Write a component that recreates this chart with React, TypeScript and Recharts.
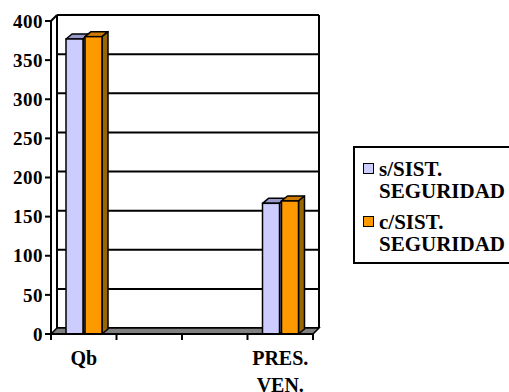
import { BarChart, Bar, XAxis, YAxis, CartesianGrid, usePlotArea } from 'recharts'

const categories = ['Qb', '', ' ', 'PRES. VEN.']
const sinSistema = [377, 0, 0, 167]
const conSistema = [380, 0, 0, 170]
const yTicks = [0, 50, 100, 150, 200, 250, 300, 350, 400]

const seriesNames = ['s/SIST. SEGURIDAD', 'c/SIST. SEGURIDAD']
const seriesColors = ['#ccccff', '#ff9900']
const seriesTops = ['#9999cc', '#cc7a00']
const seriesSides = ['#8080b0', '#996600']

const data = categories.map((name, i) => ({
  name,
  sin: sinSistema[i],
  con: conSistema[i],
}))

const FONT = 'Liberation Serif, Tinos, DejaVu Serif, serif'
// depth of the fake 3d walls / bars
const DX = 6
const DY = 6
const BDX = 6
const BDY = 5

function Walls() {
  const area = usePlotArea()
  if (!area) return null
  const { x, y, width, height } = area
  const r = x + width
  const b = y + height
  return (
    <g>
      <polygon
        points={`${x},${b} ${r},${b} ${r + DX},${b - DY} ${x + DX},${b - DY}`}
        fill="#808080"
        stroke="#000"
        strokeWidth={1.5}
      />
      <line x1={x + DX} y1={y - DY} x2={x + DX} y2={b - DY} stroke="#000" strokeWidth={2} />
      <line x1={r + DX} y1={y - DY} x2={r + DX} y2={b - DY} stroke="#000" strokeWidth={2} />
      <line x1={x} y1={y} x2={x + DX} y2={y - DY} stroke="#000" strokeWidth={2} />
    </g>
  )
}

function Bar3D(props: any) {
  const { x, y, width, height, fill, top, side } = props
  if (!height || height <= 0) return null
  const sw = 1.5
  return (
    <g>
      <polygon
        points={`${x},${y} ${x + BDX},${y - BDY} ${x + width + BDX},${y - BDY} ${x + width},${y}`}
        fill={top}
        stroke="#000"
        strokeWidth={sw}
        strokeLinejoin="round"
      />
      <polygon
        points={`${x + width},${y} ${x + width + BDX},${y - BDY} ${x + width + BDX},${y + height - BDY} ${x + width},${y + height}`}
        fill={side}
        stroke="#000"
        strokeWidth={sw}
        strokeLinejoin="round"
      />
      <rect x={x} y={y} width={width} height={height} fill={fill} stroke="#000" strokeWidth={sw} />
    </g>
  )
}

function CategoryTick(props: any) {
  const { x, y, payload, index, visibleTicksCount } = props
  const half = payload?.offset ?? 32.75
  const lines = String(payload.value).split(' ').filter(Boolean)
  const last = index === (visibleTicksCount ?? categories.length) - 1
  return (
    <g>
      <line x1={x - half} y1={y - 6} x2={x - half} y2={y} stroke="#000" strokeWidth={2} />
      {last && <line x1={x + half} y1={y - 6} x2={x + half} y2={y} stroke="#000" strokeWidth={2} />}
      {lines.map((t, i) => (
        <text
          key={i}
          x={x}
          y={y + 25 + i * 27}
          textAnchor="middle"
          fontFamily={FONT}
          fontWeight="bold"
          fontSize={20}
          fill="#000"
        >
          {t}
        </text>
      ))}
    </g>
  )
}

function GridLine(p: any) {
  return (
    <line
      key={p.key}
      x1={p.x1 + DX}
      x2={p.x2 + DX}
      y1={p.y1 - DY}
      y2={p.y2 - DY}
      stroke="#000"
      strokeWidth={2}
    />
  )
}

export default function App() {
  return (
    <div
      style={{
        position: 'absolute',
        left: 0,
        top: 0,
        width: 509,
        height: 392,
        overflow: 'hidden',
        background: '#fff',
      }}
    >
      <BarChart
        width={509}
        height={392}
        data={data}
        margin={{ top: 21, right: 196, left: 0, bottom: 8 }}
        barSize={17}
        barGap={2}
        barCategoryGap={0}
      >
        <Walls />
        <CartesianGrid vertical={false} horizontal={GridLine as any} />
        <XAxis
          dataKey="name"
          height={50}
          axisLine={{ stroke: '#000', strokeWidth: 2 }}
          tickLine={false}
          tickSize={6}
          tickMargin={0}
          interval={0}
          tick={<CategoryTick />}
        />
        <YAxis
          width={51}
          domain={[0, 400]}
          ticks={yTicks}
          interval={0}
          axisLine={{ stroke: '#000', strokeWidth: 2 }}
          tickLine={{ stroke: '#000', strokeWidth: 2 }}
          tickSize={6}
          tick={{ fill: '#000', fontFamily: FONT, fontWeight: 'bold', fontSize: 19, letterSpacing: 0.5 }}
        />
        <Bar
          dataKey="sin"
          name={seriesNames[0]}
          fill={seriesColors[0]}
          isAnimationActive={false}
          shape={(p: any) => <Bar3D {...p} top={seriesTops[0]} side={seriesSides[0]} />}
        />
        <Bar
          dataKey="con"
          name={seriesNames[1]}
          fill={seriesColors[1]}
          isAnimationActive={false}
          shape={(p: any) => <Bar3D {...p} top={seriesTops[1]} side={seriesSides[1]} />}
        />
      </BarChart>
      <div
        style={{
          position: 'absolute',
          left: 353,
          top: 146,
          width: 170,
          height: 118,
          border: '2px solid #000',
          boxSizing: 'border-box',
          fontFamily: FONT,
          fontWeight: 'bold',
          fontSize: 21,
          lineHeight: '22px',
          color: '#000',
          paddingTop: 10,
        }}
      >
        {seriesNames.map((n, i) => (
          <div key={n} style={{ display: 'flex', marginBottom: 9 }}>
            <span
              style={{
                width: 11,
                height: 11,
                border: '1.5px solid #000',
                background: seriesColors[i],
                marginLeft: 8,
                marginRight: 5,
                marginTop: 5,
                flexShrink: 0,
                boxSizing: 'border-box',
              }}
            />
            <span>
              {n.split(' ').map((w) => (
                <div key={w}>{w}</div>
              ))}
            </span>
          </div>
        ))}
      </div>
    </div>
  )
}
